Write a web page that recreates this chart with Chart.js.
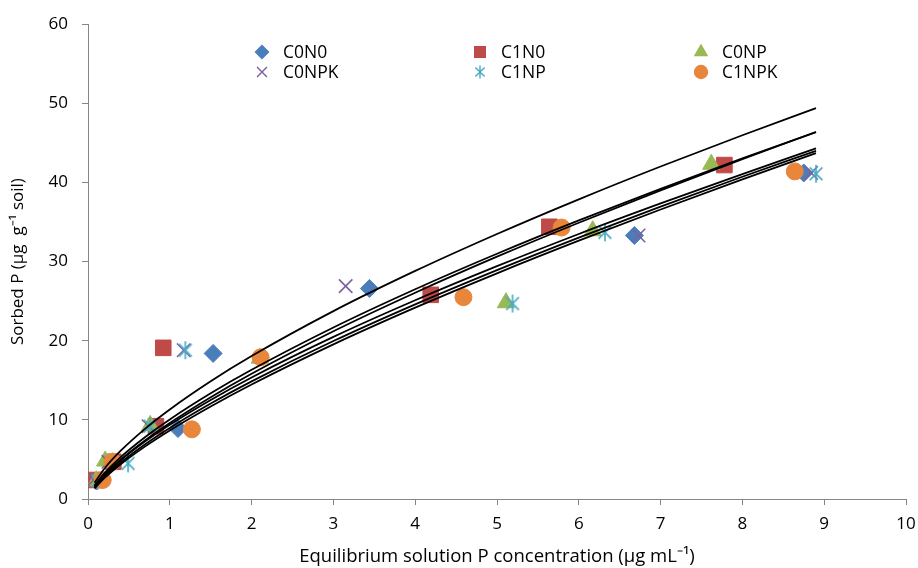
<!DOCTYPE html>
<html>
<head>
<meta charset="utf-8">
<script src="https://cdn.jsdelivr.net/npm/chart.js@4.4.1/dist/chart.umd.min.js"></script>
<style>
  html, body { margin: 0; padding: 0; background: #fff; }
  #wrap { position: relative; width: 918px; height: 568px; }
</style>
</head>
<body>
<div id="wrap"><canvas id="sorcion"></canvas></div>
<script>
// series names (legend order)
const seriesNames = ["C0N0", "C1N0", "C0NP", "C0NPK", "C1NP", "C1NPK"];

const xC0N0 = [0.10, 0.30, 1.10, 1.53, 3.44, 6.68, 8.75];
const yC0N0 = [2.3, 4.7, 8.9, 18.4, 26.6, 33.3, 41.2];
const xC1N0 = [0.07, 0.31, 0.83, 0.92, 4.19, 5.64, 7.78];
const yC1N0 = [2.4, 4.7, 9.2, 19.1, 25.8, 34.4, 42.2];
const xC0NP = [0.10, 0.21, 0.76, 2.10, 5.11, 6.17, 7.62];
const yC0NP = [2.3, 4.8, 9.3, 17.8, 24.8, 33.9, 42.3];
const xC0NPK = [0.07, 0.25, 0.74, 1.17, 3.15, 6.73, 8.84];
const yC0NPK = [2.4, 4.7, 9.2, 18.8, 26.9, 33.3, 41.2];
const xC1NP = [0.12, 0.49, 0.76, 1.19, 5.19, 6.32, 8.90];
const yC1NP = [2.3, 4.5, 9.2, 18.8, 24.7, 33.7, 41.1];
const xC1NPK = [0.18, 0.30, 1.27, 2.11, 4.59, 5.79, 8.64];
const yC1NPK = [2.4, 4.7, 8.8, 17.9, 25.5, 34.3, 41.4];

// fitted curves, values
const xCurve = [0.08, 0.2, 0.4, 0.7, 1, 1.5, 2, 3, 4, 5, 6, 7, 8, 8.9];
const yCurveA = [2.06, 3.83, 6.10, 8.90, 11.32, 14.88, 18.06, 23.74, 28.82, 33.49, 37.87, 42.02, 45.97, 49.40];
const yCurveB = [1.72, 3.27, 5.30, 7.84, 10.06, 13.36, 16.33, 21.68, 26.51, 30.99, 35.20, 39.20, 43.04, 46.37];
const yCurveC = [1.56, 3.02, 4.97, 7.43, 9.61, 12.87, 15.83, 21.20, 26.07, 30.62, 34.91, 39.01, 42.95, 46.38];
const yCurveD = [1.56, 3.00, 4.90, 7.29, 9.39, 12.52, 15.36, 20.48, 25.11, 29.42, 33.49, 37.35, 41.06, 44.30];
const yCurveE = [1.43, 2.79, 4.61, 6.93, 8.98, 12.06, 14.86, 19.96, 24.60, 28.93, 33.04, 36.95, 40.72, 44.00];
const yCurveF = [1.33, 2.63, 4.39, 6.65, 8.66, 11.69, 14.47, 19.54, 24.18, 28.52, 32.64, 36.58, 40.39, 43.70];

const xTicks = [0, 1, 2, 3, 4, 5, 6, 7, 8, 9, 10];
const yTicks = [0, 10, 20, 30, 40, 50, 60];

const FONT = "'Open Sans', 'Liberation Sans', sans-serif";

function pares(xs, ys) {
  return xs.map((x, i) => ({ x: x, y: ys[i] }));
}

// asterisco estilo Excel: una X con barra vertical
function asterisco(r, color, lw) {
  const c = document.createElement("canvas");
  const s = Math.ceil(r * 2 + lw * 2);
  c.width = s; c.height = s;
  const g = c.getContext("2d");
  const m = s / 2, d = r * Math.SQRT1_2;
  g.strokeStyle = color;
  g.lineWidth = lw;
  g.beginPath();
  g.moveTo(m - d, m - d); g.lineTo(m + d, m + d);
  g.moveTo(m + d, m - d); g.lineTo(m - d, m + d);
  g.moveTo(m, m - r); g.lineTo(m, m + r);
  g.stroke();
  return c;
}

const colores = ["#4A7EBB", "#BE4B48", "#98B954", "#7D60A0", "#46AAC5", "#E8873C"];
const estilos = ["rectRot", "rect", "triangle", "crossRot", asterisco(9, colores[4], 1.6), "circle"];
const estilosLeyenda = ["rectRot", "rect", "triangle", "crossRot", asterisco(6.5, colores[4], 1.4), "circle"];
const radios = [9, 11, 10, 9.5, 9, 8.5];
const radiosLeyenda = [6.5, 7.5, 7, 7, 6.5, 6.5];

const puntos = [
  pares(xC0N0, yC0N0), pares(xC1N0, yC1N0), pares(xC0NP, yC0NP),
  pares(xC0NPK, yC0NPK), pares(xC1NP, yC1NP), pares(xC1NPK, yC1NPK)
];
const curvas = [yCurveA, yCurveB, yCurveC, yCurveD, yCurveE, yCurveF];

const datasets = [];
puntos.forEach((pts, i) => {
  datasets.push({
    label: seriesNames[i],
    data: pts,
    pointStyle: estilos[i],
    pointRadius: radios[i],
    pointHoverRadius: radios[i],
    backgroundColor: colores[i],
    borderColor: colores[i],
    borderWidth: (i === 3) ? 1.6 : 1,
    showLine: false,
    order: 10 - i
  });
});
curvas.forEach((ys, i) => {
  datasets.push({
    label: "ajuste " + (i + 1),
    data: pares(xCurve, ys),
    showLine: true,
    borderColor: "#000",
    borderWidth: 1.8,
    pointRadius: 0,
    cubicInterpolationMode: "monotone",
    fill: false,
    order: 0
  });
});

// leyenda dentro del area, 3 columnas x 2 filas
const leyenda = {
  id: "leyenda",
  afterDraw(chart) {
    const ctx = chart.ctx;
    const colX = [262, 480, 701];
    const rowY = [52, 72];
    ctx.save();
    ctx.font = "17.5px " + FONT;
    ctx.textBaseline = "middle";
    seriesNames.forEach((name, i) => {
      const x = colX[i % 3], y = rowY[Math.floor(i / 3)];
      ctx.fillStyle = colores[i];
      ctx.strokeStyle = colores[i];
      ctx.lineWidth = 1.4;
      Chart.helpers.drawPoint(ctx, { pointStyle: estilosLeyenda[i], radius: radiosLeyenda[i], borderWidth: 1.4 }, x, y);
      ctx.fillStyle = "#000";
      ctx.fillText(name, x + 21, y + 1);
    });
    ctx.restore();
  }
};

new Chart(document.getElementById("sorcion").getContext("2d"), {
  type: "scatter",
  data: { datasets: datasets },
  plugins: [leyenda],
  options: {
    responsive: true,
    maintainAspectRatio: false,
    animation: false,
    layout: { padding: { left: 0, right: 11, top: 23, bottom: 0 } },
    plugins: {
      legend: { display: false },
      tooltip: { enabled: false }
    },
    scales: {
      x: {
        type: "linear",
        min: 0, max: 10,
        afterBuildTicks(scale) { scale.ticks = xTicks.map(v => ({ value: v })); },
        afterFit(scale) { scale.height = 69; scale.paddingRight = 0; },
        grid: { drawOnChartArea: false, drawTicks: true, tickLength: 6, color: "#868686" },
        border: { color: "#868686", width: 1 },
        ticks: { color: "#000", padding: 9, font: { family: FONT, size: 17 } },
        title: {
          display: true,
          text: "Equilibrium solution P concentration (µg mL⁻¹)",
          color: "#000",
          font: { family: FONT, size: 18.5 },
          padding: { top: 0, bottom: 0 }
        }
      },
      y: {
        type: "linear",
        min: 0, max: 60,
        afterBuildTicks(scale) { scale.ticks = yTicks.map(v => ({ value: v })); },
        afterFit(scale) { scale.width = 88; },
        grid: { drawOnChartArea: false, drawTicks: true, tickLength: 6, color: "#868686" },
        border: { color: "#868686", width: 1 },
        ticks: { color: "#000", padding: 14, font: { family: FONT, size: 17 } },
        title: {
          display: true,
          text: "Sorbed P (µg  g⁻¹ soil)",
          color: "#000",
          font: { family: FONT, size: 17 },
          padding: { top: 8, bottom: 0 }
        }
      }
    }
  }
});
</script>
</body>
</html>
